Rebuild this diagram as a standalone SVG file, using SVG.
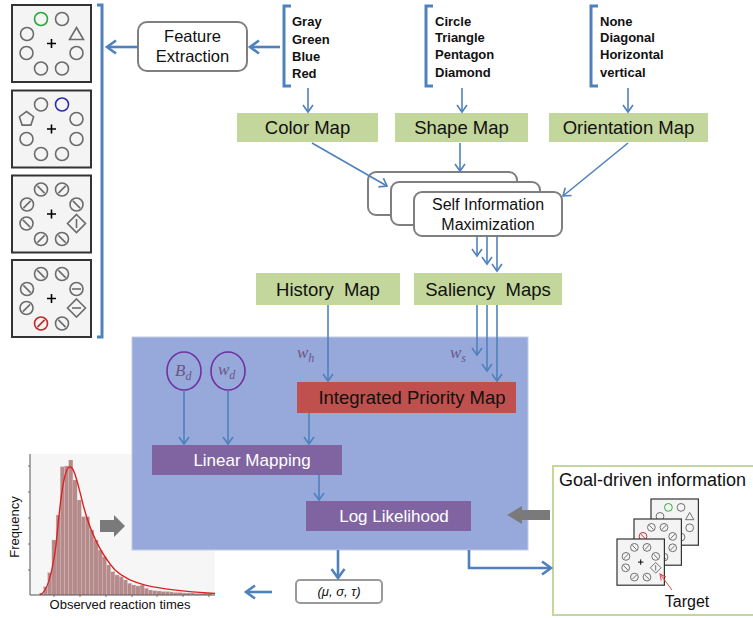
<svg xmlns="http://www.w3.org/2000/svg" width="753" height="618" viewBox="0 0 753 618">
<style>
text{font-family:"Liberation Sans",Arial,sans-serif;fill:#111}
.lst{font-size:13px;font-weight:bold}
.map{font-size:18.5px;text-anchor:middle}
.wt{fill:#fff;font-size:17px;text-anchor:middle}
.mth{font-family:"Liberation Serif","DejaVu Serif",serif;font-style:italic;fill:#6b5585}
.gm{fill:#c3d69b}
.rb{fill:#fff;stroke:#7f7f7f;stroke-width:2}
.ln{stroke:#4f81bd;stroke-width:1.6;fill:none;marker-end:url(#ah)}
.lt{stroke:#4f81bd;stroke-width:2.6;fill:none;marker-end:url(#ahb)}
.br{stroke:#4f81bd;stroke-width:3;fill:none}
.it{fill:none;stroke:#6b6b6b;stroke-width:1.6}
.pb{fill:#f4f4f4;stroke:#333;stroke-width:2}
.pl{stroke:#000;stroke-width:1.6}
.gray{fill:#7a7a7a}
</style>
<defs>
<marker id="ah" markerUnits="userSpaceOnUse" markerWidth="12" markerHeight="12" viewBox="0 0 12 12" refX="10" refY="6" orient="auto"><path d="M3,1 L10,6 L3,11" fill="none" stroke="#4f81bd" stroke-width="1.6"/></marker>
<marker id="ahb" markerUnits="userSpaceOnUse" markerWidth="16" markerHeight="16" viewBox="0 0 16 16" refX="13" refY="8" orient="auto"><path d="M4,1.5 L13,8 L4,14.5" fill="none" stroke="#4f81bd" stroke-width="2.6"/></marker>
<marker id="ahr" markerUnits="userSpaceOnUse" markerWidth="8" markerHeight="8" viewBox="0 0 8 8" refX="7" refY="4" orient="auto"><path d="M1,1 L7,4 L1,7" fill="none" stroke="#e04a4a" stroke-width="1"/></marker>
<g id="ci"><circle r="6.5"/></g>
<g id="cb"><circle r="6.5"/><line x1="-3.6" y1="-3.6" x2="3.6" y2="3.6"/></g>
<g id="cf"><circle r="6.5"/><line x1="-3.6" y1="3.6" x2="3.6" y2="-3.6"/></g>
<g id="ch"><circle r="6.5"/><line x1="-4.5" y1="0" x2="4.5" y2="0"/></g>
<g id="tri"><polygon points="0,-6.5 7,5.5 -7,5.5"/></g>
<g id="pent"><polygon points="0,-7.5 7.1,-2.3 4.4,6.1 -4.4,6.1 -7.1,-2.3"/></g>
<g id="dv"><polygon points="0,-9 9,0 0,9 -9,0"/><line x1="0" y1="-4.5" x2="0" y2="4.5"/></g>
<g id="dh"><polygon points="0,-9 9,0 0,9 -9,0"/><line x1="-4.5" y1="0" x2="4.5" y2="0"/></g>
<g id="pl"><path class="pl" d="M-4.5,0 H4.5 M0,-4.5 V4.5"/></g>
<g id="p1" class="it">
<rect x="-39.5" y="-38.5" width="79" height="77" class="pb"/>
<use href="#pl"/>
<use href="#ci" x="-10.5" y="-24.5" stroke="#2aa63a"/>
<use href="#ci" x="10.5" y="-24.5"/>
<use href="#ci" x="-24.5" y="-9.5"/>
<use href="#tri" x="25" y="-9.5"/>
<use href="#ci" x="-25" y="9.5"/>
<use href="#ci" x="25" y="9.5"/>
<use href="#ci" x="-10.5" y="25"/>
<use href="#ci" x="10.5" y="25"/>
</g>
<g id="p2" class="it">
<rect x="-39.5" y="-38.5" width="79" height="77" class="pb"/>
<use href="#pl"/>
<use href="#ci" x="-10.5" y="-24.5"/>
<use href="#ci" x="10.5" y="-24.5" stroke="#2b2bb0"/>
<use href="#pent" x="-25" y="-10"/>
<use href="#ci" x="25" y="-10"/>
<use href="#ci" x="-25" y="10"/>
<use href="#ci" x="25" y="10"/>
<use href="#ci" x="-10.5" y="25"/>
<use href="#ci" x="10.5" y="25"/>
</g>
<g id="p3" class="it">
<rect x="-39.5" y="-38.5" width="79" height="77" class="pb"/>
<use href="#pl"/>
<use href="#cb" x="-10.5" y="-24.5"/>
<use href="#cf" x="10.5" y="-24.5"/>
<use href="#cf" x="-24.5" y="-9.5"/>
<use href="#cb" x="25" y="-9.5"/>
<use href="#cb" x="-25" y="9.5"/>
<use href="#dv" x="25" y="9.5"/>
<use href="#cf" x="-10.5" y="25"/>
<use href="#cb" x="10.5" y="25"/>
</g>
<g id="p4" class="it">
<rect x="-39.5" y="-38.5" width="79" height="77" class="pb"/>
<use href="#pl"/>
<use href="#cb" x="-10.5" y="-24.5"/>
<use href="#cb" x="10.5" y="-24.5"/>
<use href="#cb" x="-24.5" y="-9.5"/>
<use href="#ch" x="25" y="-9.5"/>
<use href="#cf" x="-25" y="9.5"/>
<use href="#dh" x="25" y="9.5"/>
<use href="#cf" x="-10.5" y="25" stroke="#c0282a"/>
<use href="#cb" x="10.5" y="25"/>
</g>
<g id="pc2" class="it">
<rect x="-39.5" y="-38.5" width="79" height="77" class="pb"/>
<use href="#pl"/>
<use href="#cb" x="-10.5" y="-24.5"/>
<use href="#cf" x="10.5" y="-24.5"/>
<use href="#cb" x="-24.5" y="-9.5" stroke="#c0282a"/>
<use href="#cf" x="25" y="-9.5"/>
<use href="#cb" x="-25" y="9.5"/>
<use href="#cf" x="25" y="9.5"/>
<use href="#cf" x="-10.5" y="25"/>
<use href="#cb" x="10.5" y="25"/>
</g>
</defs>
<rect width="753" height="618" fill="#fff"/>

<!-- stimulus panels -->
<g id="stimuli">
<use href="#p1" transform="translate(51.5,43.5)"/>
<use href="#p2" transform="translate(51.5,129)"/>
<use href="#p3" transform="translate(51.5,214)"/>
<use href="#p4" transform="translate(51.5,298.5)"/>
<path class="br" d="M97,5 H102 V337 H97"/>
</g>

<!-- histogram -->
<g id="histogram">
<rect x="30" y="454" width="185" height="141" fill="#f6f6f6"/>
<g fill="#b58a8a" stroke="#d9c4c4" stroke-width="0.3">
<rect x="39.3" y="593.3" width="4.2" height="1.7"/>
<rect x="43.5" y="586.7" width="4.2" height="8.3"/>
<rect x="47.7" y="572.7" width="4.2" height="22.3"/>
<rect x="51.9" y="540" width="4.2" height="55"/>
<rect x="56.1" y="515" width="4.2" height="80"/>
<rect x="60.3" y="466.7" width="4.2" height="128.3"/>
<rect x="64.5" y="466" width="4.2" height="129"/>
<rect x="68.7" y="460" width="4.2" height="135"/>
<rect x="72.9" y="480" width="4.2" height="115"/>
<rect x="77.1" y="500" width="4.2" height="95"/>
<rect x="81.3" y="516.7" width="4.2" height="78.3"/>
<rect x="85.5" y="516.7" width="4.2" height="78.3"/>
<rect x="89.7" y="530" width="4.2" height="65"/>
<rect x="93.9" y="540" width="4.2" height="55"/>
<rect x="98.1" y="550" width="4.2" height="45"/>
<rect x="102.3" y="556.7" width="4.2" height="38.3"/>
<rect x="106.5" y="565" width="4.2" height="30"/>
<rect x="110.7" y="571.7" width="4.2" height="23.3"/>
<rect x="114.9" y="575" width="4.2" height="20"/>
<rect x="119.1" y="576.7" width="4.2" height="18.3"/>
<rect x="123.3" y="580" width="4.2" height="15"/>
<rect x="127.5" y="583.3" width="4.2" height="11.7"/>
<rect x="131.7" y="585" width="4.2" height="10"/>
<rect x="135.9" y="586" width="4.2" height="9"/>
<rect x="140.1" y="585" width="4.2" height="10"/>
<rect x="144.3" y="588.3" width="4.2" height="6.7"/>
<rect x="148.5" y="590" width="4.2" height="5"/>
<rect x="152.7" y="590.7" width="4.2" height="4.3"/>
<rect x="156.9" y="591" width="4.2" height="4"/>
<rect x="161.1" y="591.5" width="4.2" height="3.5"/>
<rect x="165.3" y="591.5" width="4.2" height="3.5"/>
<rect x="169.5" y="592" width="4.2" height="3"/>
<rect x="173.7" y="592.5" width="4.2" height="2.5"/>
<rect x="177.9" y="592.5" width="4.2" height="2.5"/>
<rect x="182.1" y="593" width="4.2" height="2"/>
<rect x="186.3" y="593" width="4.2" height="2"/>
<rect x="190.5" y="593" width="4.2" height="2"/>
<rect x="194.7" y="593.5" width="4.2" height="1.5"/>
<rect x="198.9" y="593.5" width="4.2" height="1.5"/>
<rect x="203.1" y="593" width="4.2" height="2"/>
<rect x="207.3" y="593.5" width="4.2" height="1.5"/>
</g>
<path d="M40,594.5 C47,593 52,575 56,545 C60,505 63,472 69,467 C74,464 78,485 84,508 C90,530 100,553 115,570 C130,584 150,589 215,593.5" fill="none" stroke="#e02020" stroke-width="1.4"/>
<path d="M30,454 V595 H215" fill="none" stroke="#555" stroke-width="1"/>
<path d="M28,466 H30 M28,492 H30 M28,518 H30 M28,544 H30 M28,570 H30 M54,595 V597 M80,595 V597 M106,595 V597 M132,595 V597 M157,595 V597 M183,595 V597 M209,595 V597" stroke="#555" stroke-width="0.8"/>
<text x="0" y="0" font-size="13" text-anchor="middle" transform="translate(19,527) rotate(-90)">Frequency</text>
<text x="120" y="609" font-size="13" text-anchor="middle">Observed reaction times</text>
<polygon class="gray" points="100,520 114,520 114,515 125,526 114,537 114,532 100,532"/>
</g>

<!-- big model box -->
<g id="model">
<rect x="132" y="337" width="396" height="213" fill="#97a9db" stroke="#c3cbe6" stroke-width="1"/>
</g>

<g id="featureExtraction">
<rect class="rb" x="138" y="22" width="109" height="49" rx="9"/>
<text x="192.5" y="42" font-size="16.5" text-anchor="middle">Feature</text>
<text x="192.5" y="62" font-size="16.5" text-anchor="middle">Extraction</text>
</g>

<g id="colorList">
<path class="br" d="M291,6 H284 V86 H291"/>
<text class="lst" x="292" y="26">Gray</text>
<text class="lst" x="292" y="44">Green</text>
<text class="lst" x="292" y="61">Blue</text>
<text class="lst" x="292" y="78">Red</text>
</g>
<g id="shapeList">
<path class="br" d="M433,6 H426 V86 H433"/>
<text class="lst" x="435" y="26">Circle</text>
<text class="lst" x="435" y="42">Triangle</text>
<text class="lst" x="435" y="59">Pentagon</text>
<text class="lst" x="435" y="77">Diamond</text>
</g>
<g id="orientationList">
<path class="br" d="M598,6 H591 V86 H598"/>
<text class="lst" x="600" y="26">None</text>
<text class="lst" x="600" y="42">Diagonal</text>
<text class="lst" x="600" y="59">Horizontal</text>
<text class="lst" x="600" y="77">vertical</text>
</g>

<g id="colorMap"><rect class="gm" x="237" y="113" width="141" height="29"/><text class="map" x="307.5" y="134">Color Map</text></g>
<g id="shapeMap"><rect class="gm" x="395" y="113" width="133" height="29"/><text class="map" x="461.5" y="134">Shape Map</text></g>
<g id="orientationMap"><rect class="gm" x="549" y="113" width="159" height="29"/><text class="map" x="628.5" y="134">Orientation Map</text></g>

<g id="selfInfo">
<rect class="rb" x="368" y="172" width="149" height="43" rx="8"/>
<rect class="rb" x="391" y="182" width="149" height="43" rx="8"/>
<rect class="rb" x="414" y="192" width="148" height="44" rx="8"/>
<text x="488" y="210" font-size="16" text-anchor="middle">Self Information</text>
<text x="488" y="230" font-size="16" text-anchor="middle">Maximization</text>
</g>

<g id="historyMap"><rect class="gm" x="256" y="273" width="144" height="32"/><text class="map" x="328" y="296" style="white-space:pre">History  Map</text></g>
<g id="saliencyMaps"><rect class="gm" x="414" y="273" width="148" height="32"/><text class="map" x="488" y="296" style="white-space:pre">Saliency  Maps</text></g>

<g id="Bd"><ellipse cx="184" cy="371" rx="17" ry="19" fill="none" stroke="#7030a0" stroke-width="1.6"/><text class="mth" x="175" y="376" font-size="17">B<tspan font-size="12" dy="4">d</tspan></text></g>
<g id="wd"><ellipse cx="228" cy="371" rx="17" ry="19" fill="none" stroke="#7030a0" stroke-width="1.6"/><text class="mth" x="218" y="375" font-size="17">w<tspan font-size="12" dy="4">d</tspan></text></g>
<g id="wh"><text class="mth" x="297" y="358" font-size="17">w<tspan font-size="12" dy="4">h</tspan></text></g>
<g id="ws"><text class="mth" x="450" y="358" font-size="17">w<tspan font-size="12" dy="4">s</tspan></text></g>

<g id="priorityMap"><rect x="297" y="382" width="219" height="31" fill="#c0504d"/><text class="map" x="412" y="404">Integrated Priority Map</text></g>
<g id="linearMapping"><rect x="152" y="445" width="190" height="30" fill="#8064a2"/><text class="wt" x="252" y="466">Linear Mapping</text></g>
<g id="logLikelihood"><rect x="306" y="501" width="165" height="30" fill="#8064a2"/><text class="wt" x="394" y="522">Log Likelihood</text></g>

<g id="params"><rect x="296" y="580" width="86" height="23" rx="4" fill="#fff" stroke="#9a9a9a" stroke-width="2"/><text x="339" y="596" font-size="13" text-anchor="middle" font-family="Liberation Serif,serif" font-style="italic">(μ, σ, τ)</text></g>

<g id="goalDriven">
<rect x="553" y="466" width="210" height="149" fill="#fff" stroke="#c3d69b" stroke-width="2"/>
<text x="559" y="486" font-size="18">Goal-driven information</text>
<use href="#p1" transform="translate(674.7,522.1) scale(0.6)"/>
<use href="#pc2" transform="translate(657.7,542.1) scale(0.6)"/>
<use href="#p3" transform="translate(640.7,562.1) scale(0.6)"/>
<text x="687" y="607" font-size="16" text-anchor="middle">Target</text>
<line x1="672" y1="590" x2="660" y2="574" stroke="#e04a4a" stroke-width="1" marker-end="url(#ahr)"/>
<polygon class="gray" points="507,515 522,506 522,510 550,510 550,520 522,520 522,524"/>
</g>

<g id="connectors">
<line class="lt" x1="138" y1="47" x2="107" y2="47"/>
<line class="lt" x1="280" y1="47" x2="250" y2="47"/>
<line class="ln" x1="308" y1="88" x2="308" y2="112"/>
<line class="ln" x1="462" y1="88" x2="462" y2="112"/>
<line class="ln" x1="628" y1="88" x2="628" y2="112"/>
<line class="ln" x1="312" y1="143" x2="387" y2="186"/>
<line class="ln" x1="460" y1="143" x2="460" y2="171"/>
<line class="ln" x1="628" y1="143" x2="563" y2="196"/>
<line class="ln" x1="477" y1="236" x2="477" y2="256"/>
<line class="ln" x1="487" y1="236" x2="487" y2="264"/>
<line class="ln" x1="497" y1="236" x2="497" y2="271"/>
<line class="ln" x1="328" y1="305" x2="328" y2="381"/>
<line class="ln" x1="477" y1="305" x2="477" y2="355"/>
<line class="ln" x1="487" y1="305" x2="487" y2="371"/>
<line class="ln" x1="497" y1="305" x2="497" y2="381"/>
<line class="ln" x1="184" y1="390" x2="184" y2="444"/>
<line class="ln" x1="228" y1="390" x2="228" y2="444"/>
<line class="ln" x1="309" y1="413" x2="309" y2="444"/>
<line class="ln" x1="319" y1="475" x2="319" y2="500"/>
<line class="lt" x1="338" y1="550" x2="338" y2="578"/>
<line class="lt" x1="272" y1="592" x2="246" y2="592"/>
<path class="lt" d="M469,550 V568 H551"/>
</g>
</svg>
